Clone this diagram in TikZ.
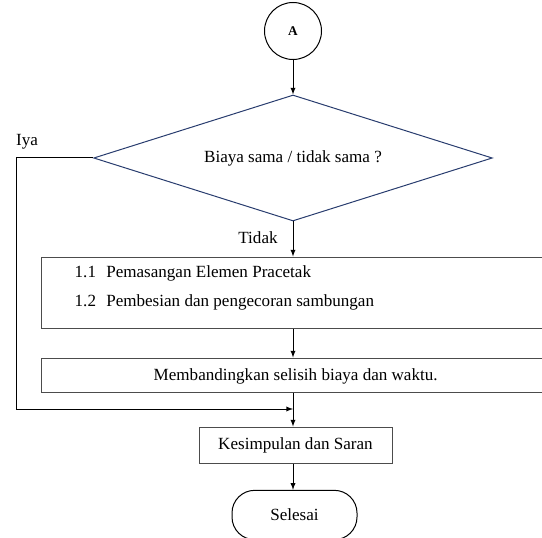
\documentclass[tikz,border=0pt]{standalone}
\usepackage{fontspec}
\setmainfont{Liberation Serif}
\usetikzlibrary{shapes.geometric,arrows}
\definecolor{decblue}{RGB}{40,60,110}
\tikzset{
    konektor/.style={circle,draw,line width=0.75pt,minimum size=42.75pt,inner sep=0pt,font=\bfseries},
    keputusan/.style={diamond,draw=decblue,line width=0.75pt,aspect=3.2,inner sep=0pt,minimum width=299pt,minimum height=94.5pt},
    proses/.style={rectangle,draw=black!70,line width=0.75pt,inner sep=0pt},
    terminal/.style={rectangle,rounded corners=17pt,draw,line width=0.75pt,minimum width=93.75pt,minimum height=37pt},
    panah/.style={->,>=latex,line width=0.75pt},
    garis/.style={line width=0.75pt}
}

\begin{document}
\begin{tikzpicture}[x=0.75pt,y=-0.75pt,font=\fontsize{12.8}{15}\selectfont]
    \useasboundingbox (0,0) rectangle (542,538);
    \clip (0,0) rectangle (542,538);
    \node[konektor] (A) at (293,31) {A};
    \node[keputusan] (cek) at (293,158) {Biaya sama / tidak sama ?};
    \node (iya) at (27,142) {Iya};
    \node (tidak) at (258,238) {Tidak};
    \node[proses,minimum width=389.25pt,minimum height=53.25pt] (tahap) at (300.5,292.5) {};
    \node[anchor=west] (tahap1) at (70,273) {1.1\hspace{0.6em}Pemasangan Elemen Pracetak};
    \node[anchor=west] (tahap2) at (70,302) {1.2\hspace{0.6em}Pembesian dan pengecoran sambungan};
    \node[proses,minimum width=389.25pt,minimum height=25.5pt] (banding) at (300.5,375) {};
    \node[anchor=west] (bandingtxt) at (149,376) {Membandingkan selisih biaya dan waktu.};
    \node[proses,minimum width=144.75pt,minimum height=27pt] (simpul) at (295.5,445) {Kesimpulan dan Saran};
    \node[terminal] (selesai) at (294.5,515) {Selesai};
    \coordinate (sudut) at (16,409);
    \coordinate (gabung) at (293,409);
    % alur utama
    \draw[panah] (A) -- (cek.north);
    \draw[panah] (cek.south) -- (cek.south |- tahap.north);
    \draw[panah] (cek.south |- tahap.south) -- (cek.south |- banding.north);
    \draw[panah] (cek.south |- banding.south) -- (cek.south |- simpul.north);
    \draw[panah] (simpul.south -| cek.south) -- (selesai.north -| cek.south);
    % cabang iya
    \draw[panah] (cek.west) -| (sudut) -- (gabung);
\end{tikzpicture}
\end{document}
